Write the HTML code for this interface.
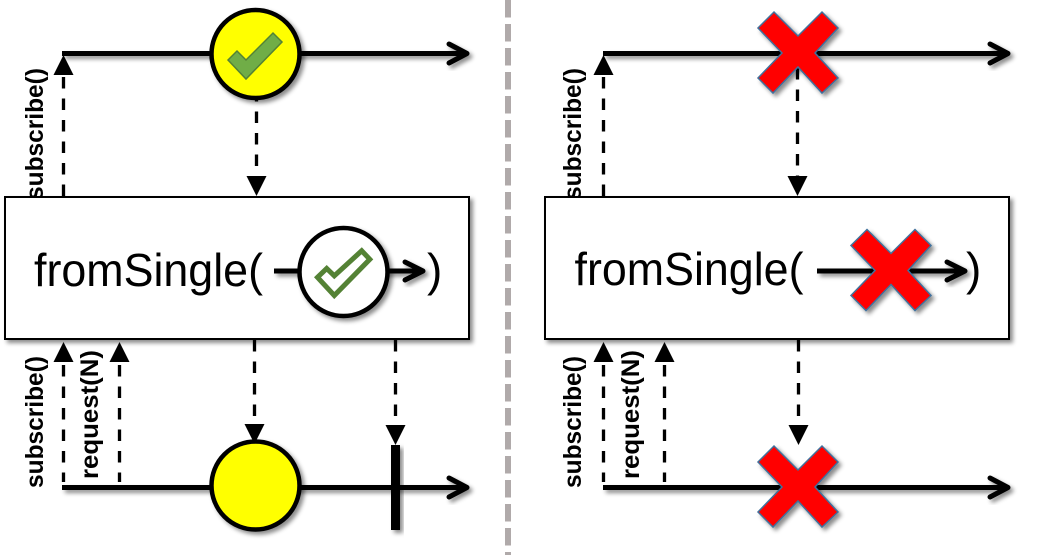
<!DOCTYPE html>
<html><head><meta charset="utf-8"><style>html,body{margin:0;padding:0;background:#fff}svg{display:block}.c{stroke-linecap:round}</style></head>
<body>
<svg width="1046" height="558" viewBox="0 0 1046 558" xmlns="http://www.w3.org/2000/svg">
<defs>
<filter id="s" x="-30%" y="-30%" width="170%" height="170%"><feDropShadow dx="3" dy="3" stdDeviation="2" flood-color="#000" flood-opacity=".45"/></filter>
<polygon id="x" points="-24,-41 0,-17 24,-41 40,-25 17,0 40,25 24,40 0,14 -25,40 -40,25 -16,0 -40,-25" fill="#f00" stroke="#41719c" stroke-width="1.5"/>
<polygon id="up" points="0,0 10,20 -10,20" fill="#000"/>
<polygon id="dn" points="0,0 10,-20 -10,-20" fill="#000"/>
</defs>
<rect width="1046" height="558" fill="#fff"/>
<line x1="508" y1="0" x2="508" y2="555" stroke="#b0aaaa" stroke-width="6" stroke-dasharray="17.5 6.5"/>

<g font-family="'Liberation Sans',sans-serif" font-weight="700" font-size="25" fill="#000">
<text transform="translate(43,200) rotate(-90)" textLength="132" lengthAdjust="spacingAndGlyphs">subscribe()</text>
<text transform="translate(43,488) rotate(-90)" textLength="132" lengthAdjust="spacingAndGlyphs">subscribe()</text>
<text transform="translate(98,479) rotate(-90)" textLength="129" lengthAdjust="spacingAndGlyphs">request(N)</text>
<text transform="translate(581,200) rotate(-90)" textLength="132" lengthAdjust="spacingAndGlyphs">subscribe()</text>
<text transform="translate(581,488) rotate(-90)" textLength="132" lengthAdjust="spacingAndGlyphs">subscribe()</text>
<text transform="translate(639,479) rotate(-90)" textLength="129" lengthAdjust="spacingAndGlyphs">request(N)</text>
</g>

<!-- dashed connectors -->
<g stroke="#000" stroke-width="3.3" stroke-dasharray="11.5 10" fill="none">
<line x1="63.5" y1="77" x2="63.5" y2="197"/>
<line x1="256.5" y1="90" x2="256.5" y2="176"/>
<line x1="63.5" y1="365" x2="63.5" y2="482"/>
<line x1="119.5" y1="365" x2="119.5" y2="482"/>
<line x1="254.5" y1="340" x2="254.5" y2="425"/>
<line x1="395.5" y1="340" x2="395.5" y2="425"/>
<line x1="603.5" y1="77" x2="603.5" y2="197"/>
<line x1="797.5" y1="68" x2="797.5" y2="176"/>
<line x1="603.5" y1="365" x2="603.5" y2="482"/>
<line x1="664.5" y1="365" x2="664.5" y2="482"/>
<line x1="798.5" y1="340" x2="798.5" y2="425"/>
</g>
<use href="#up" x="63.5" y="55"/><use href="#dn" x="256.5" y="196"/>
<use href="#up" x="63.5" y="342"/><use href="#up" x="119.5" y="342"/>
<use href="#dn" x="254.5" y="444"/><use href="#dn" x="395.5" y="445"/>
<use href="#up" x="603.5" y="55"/><use href="#dn" x="797.5" y="196"/>
<use href="#up" x="603.5" y="342"/><use href="#up" x="664.5" y="342"/>
<use href="#dn" x="798.5" y="445"/>

<!-- boxes -->
<rect x="5" y="197" width="464" height="142" fill="#fff" stroke="#000" stroke-width="2" filter="url(#s)"/>
<rect x="545" y="197" width="464" height="142" fill="#fff" stroke="#000" stroke-width="2" filter="url(#s)"/>
<g font-family="'Liberation Sans',sans-serif" font-size="46" fill="#000">
<text x="34" y="286" textLength="229" lengthAdjust="spacingAndGlyphs">fromSingle(</text>
<text x="574.500" y="285" textLength="229" lengthAdjust="spacingAndGlyphs">fromSingle(</text>
<text x="427" y="286">)</text>
<text x="966" y="285">)</text>
</g>

<!-- timelines -->
<g stroke="#000" stroke-width="5" fill="none" stroke-linejoin="round">
<g filter="url(#s)"><path d="M62 53.500H465"/><path class="c" d="M449 44L467 53.500L449 63"/></g>
<g filter="url(#s)"><path d="M62 487.500H465"/><path class="c" d="M449 478L467 487.500L449 497"/></g>
<g filter="url(#s)"><path d="M603 53.500H1006"/><path class="c" d="M990 44L1008 53.500L990 63"/></g>
<g filter="url(#s)"><path d="M603 487.500H1006"/><path class="c" d="M990 478L1008 487.500L990 497"/></g>
<g filter="url(#s)"><path d="M274 271H421"/><path class="c" d="M405 262L423 271L405 280"/></g>
<g filter="url(#s)"><path d="M817 271H963"/><path class="c" d="M947 262L965 271L947 280"/></g>
</g>

<!-- left nodes -->
<circle cx="255.500" cy="54" r="44" fill="#ff0" stroke="#000" stroke-width="4.500" filter="url(#s)"/>
<polygon points="228,60 237,51 246,60 273,33 282,42 246,79" fill="#70ad47" stroke="#548235" stroke-width="1.500"/>
<circle cx="343.500" cy="272" r="44" fill="#fff" stroke="#000" stroke-width="4.500" filter="url(#s)"/>
<polygon points="317.500,277.300 326.700,268.500 334.300,275.800 361.700,250.800 369.800,259.300 334.300,295.500" fill="#fff" stroke="#548235" stroke-width="5"/>
<rect x="391" y="445" width="9" height="85" fill="#000" filter="url(#s)"/>
<circle cx="255.500" cy="485.500" r="44" fill="#ff0" stroke="#000" stroke-width="4.500" filter="url(#s)"/>

<!-- right nodes -->
<g filter="url(#s)"><use href="#x" x="798" y="53"/></g>
<g filter="url(#s)"><use href="#x" x="891" y="270.500"/></g>
<g filter="url(#s)"><use href="#x" x="798" y="487"/></g>
</svg>
</body></html>
